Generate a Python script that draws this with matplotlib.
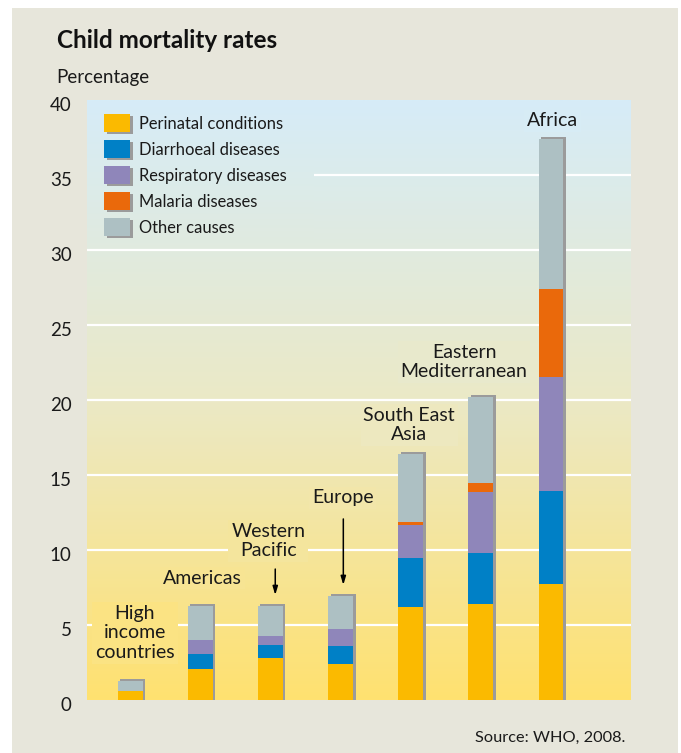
import matplotlib
matplotlib.use("Agg")
import matplotlib.pyplot as plt
import numpy as np
from matplotlib.colors import LinearSegmentedColormap
from matplotlib.patches import Rectangle
from matplotlib.transforms import ScaledTranslation

# data (percent)
regions = ['High\nincome\ncountries', 'Americas', 'Western\nPacific', 'Europe',
           'South East\nAsia', 'Eastern\nMediterranean', 'Africa']
perinatal = [0.6, 2.1, 2.8, 2.4, 6.2, 6.4, 7.75]
diarrhoeal = [0, 0.95, 0.85, 1.2, 3.3, 3.4, 6.2]
respiratory = [0, 0.95, 0.6, 1.15, 2.2, 4.05, 7.6]
malaria = [0, 0, 0, 0, 0.2, 0.6, 5.85]
other = [0.7, 2.25, 2.05, 2.2, 4.5, 5.75, 10.0]
causes = ['Perinatal conditions', 'Diarrhoeal diseases', 'Respiratory diseases',
          'Malaria diseases', 'Other causes']
yticks = [0, 5, 10, 15, 20, 25, 30, 35, 40]

colors = ['#FBBA00', '#0080C6', '#8F86BA', '#EA690B', '#ADC0C3']
shadow = '#9B9B9B'
card = '#E7E6DB'
plt.rcParams['font.family'] = ['Lato', 'DejaVu Sans']

fig = plt.figure(figsize=(6.81, 7.53), dpi=100, facecolor='white')
fig.patches.append(Rectangle((12/681, 0), 666/681, 1 - 8/753, transform=fig.transFigure,
                             facecolor=card, edgecolor='none', zorder=-10))
ax = fig.add_axes([87/681, 1 - 700/753, 544/681, 600/753])
ax.set_xlim(-0.613, 7.14)
ax.set_ylim(0, 40)

# background gradient
grad = LinearSegmentedColormap.from_list('bg', [(0, '#FFE170'), (0.5, '#EBE9C6'), (1, '#D6ECF8')])
yy = np.linspace(0, 40, 256).reshape(-1, 1)
ax.imshow(yy, cmap=grad, vmin=0, vmax=40, origin='lower', aspect='auto',
          extent=[-0.613, 7.14, 0, 40], zorder=0)
# legend area hides the gridlines
leg_y = yy[yy[:, 0] > 30.6]
ax.imshow(leg_y, cmap=grad, vmin=0, vmax=40, origin='lower', aspect='auto',
          extent=[-0.613, 2.62, leg_y.min(), 40], zorder=0.8)

ax.set_yticks(yticks)
ax.set_xticks([])
ax.yaxis.grid(True, color='white', lw=1.6)
ax.set_axisbelow(True)
gl = ax.yaxis.get_gridlines()
gl[0].set_visible(False)
gl[-1].set_visible(False)
for s in ax.spines.values():
    s.set_visible(False)
ax.tick_params(axis='y', length=0, pad=11, labelsize=13.5, labelcolor='#1a1a1a')
for lab in ax.get_yticklabels():
    lab.set_transform(lab.get_transform() + ScaledTranslation(0, -4/100, fig.dpi_scale_trans))

x = np.arange(len(regions))
w = 0.356
series = [perinatal, diarrhoeal, respiratory, malaria, other]
totals = np.sum(series, axis=0)
ax.bar(x + 0.036, totals + 0.13, w, color=shadow, lw=0, zorder=2)
bottom = np.zeros(len(regions))
for vals, c in zip(series, colors):
    ax.bar(x, vals, w, bottom=bottom, color=c, lw=0, zorder=3)
    bottom += np.array(vals)

# legend
for i, (name, c) in enumerate(zip(causes, colors)):
    yc = 0.96 - i * 0.0432
    ax.add_patch(Rectangle((0.0365, yc - 0.017), 0.048, 0.03, transform=ax.transAxes,
                           facecolor=shadow, lw=0, zorder=4))
    ax.add_patch(Rectangle((0.031, yc - 0.014), 0.048, 0.03, transform=ax.transAxes,
                           facecolor=c, lw=0, zorder=5))
    ax.text(0.0956, yc, name, transform=ax.transAxes, va='center', ha='left',
            fontsize=11.9, color='#1a1a1a', zorder=5)

# region labels
label_pos = [(0.07, 4.47), (1.03, 8.13), (1.97, 10.6), (3.03, 13.47),
             (3.98, 18.33), (4.76, 22.53), (6.02, 38.6)]
for name, (lx, ly) in zip(regions, label_pos):
    ax.text(lx, ly, name, ha='center', va='center', fontsize=14, color='#1a1a1a',
            linespacing=1.2, zorder=6,
            bbox=dict(boxstyle='square,pad=0.15', fc=grad(ly / 40), ec='none'))

for xi, y0, y1 in [(2.07, 8.73, 7.0), (3.04, 12.07, 7.67)]:
    ax.annotate('', xy=(xi, y1), xytext=(xi, y0),
                arrowprops=dict(arrowstyle='-|>,head_length=0.5,head_width=0.15',
                                color='black', lw=1.1, shrinkA=0, shrinkB=0), zorder=6)

fig.text(57/681, 1 - 48/753, 'Child mortality rates', fontsize=17.5, fontweight='bold',
         color='#111111', va='baseline', ha='left')
fig.text(56/681, 1 - 83/753, 'Percentage', fontsize=13.5, color='#1a1a1a',
         va='baseline', ha='left')
fig.text(625/681, 1 - 742/753, 'Source: WHO, 2008.', fontsize=11.8, color='#1a1a1a',
         va='baseline', ha='right')

fig.savefig('out.png', dpi=100, facecolor=fig.get_facecolor())
